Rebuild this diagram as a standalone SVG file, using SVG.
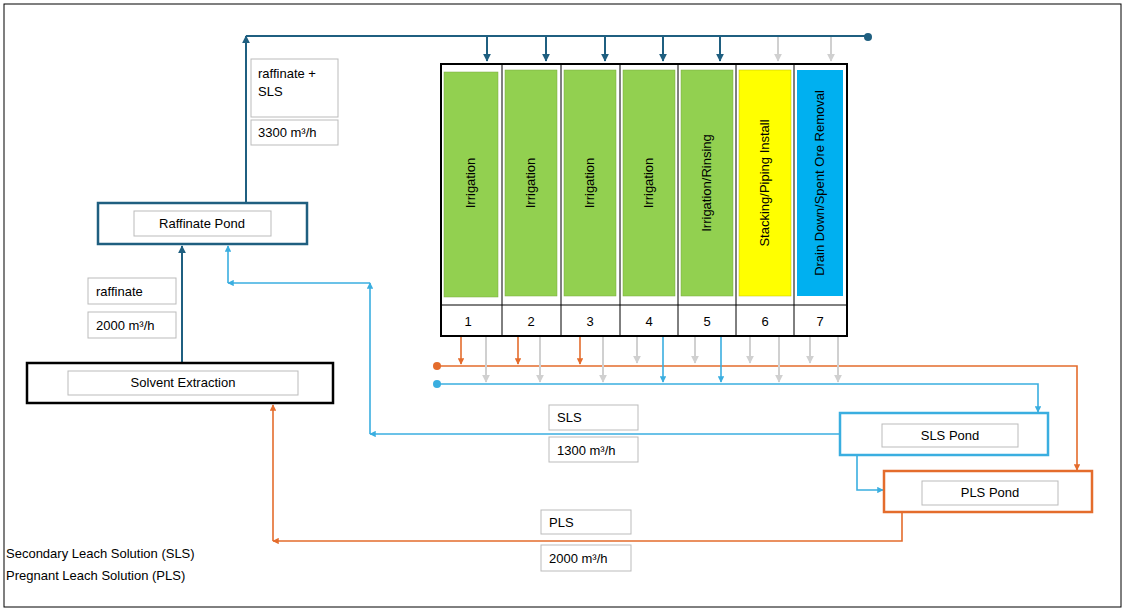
<svg xmlns="http://www.w3.org/2000/svg" width="1126" height="612" viewBox="0 0 1126 612">
<defs>
<marker id="ad" viewBox="0 0 10 10" refX="9" refY="5" markerWidth="4" markerHeight="4" orient="auto"><path d="M0,0L10,5L0,10z" fill="#1f5f80"/></marker>
<marker id="ag" viewBox="0 0 10 10" refX="9" refY="5" markerWidth="4" markerHeight="4" orient="auto"><path d="M0,0L10,5L0,10z" fill="#d0d0d0"/></marker>
<marker id="ao" viewBox="0 0 10 10" refX="9" refY="5" markerWidth="4" markerHeight="4" orient="auto"><path d="M0,0L10,5L0,10z" fill="#e46c2c"/></marker>
<marker id="ab" viewBox="0 0 10 10" refX="9" refY="5" markerWidth="4" markerHeight="4" orient="auto"><path d="M0,0L10,5L0,10z" fill="#3aaee0"/></marker>
</defs>
<style>
text{font-family:"Liberation Sans",Arial,sans-serif;font-size:13px;fill:#000}
.lb{fill:#fff;stroke:#bbb;stroke-width:1}
.d{stroke:#1f5f80;stroke-width:2;fill:none}
.g{stroke:#d0d0d0;stroke-width:2;fill:none}
.o{stroke:#e46c2c;stroke-width:1.6;fill:none}
.b{stroke:#3aaee0;stroke-width:1.6;fill:none}
.vt{font-size:13px}
</style>
<rect x="4" y="4" width="1117" height="603" fill="#fff" stroke="#000" stroke-width="1"/>
<g id="connectors">
<path class="d" d="M246,203V36" marker-end="url(#ad)"/>
<path class="d" d="M246,36H868"/>
<circle cx="868" cy="37" r="4" fill="#1f5f80"/>
<path class="d" d="M487,37V61" marker-end="url(#ad)"/>
<path class="d" d="M546,37V61" marker-end="url(#ad)"/>
<path class="d" d="M605,37V61" marker-end="url(#ad)"/>
<path class="d" d="M663,37V61" marker-end="url(#ad)"/>
<path class="d" d="M720,37V61" marker-end="url(#ad)"/>
<path class="g" d="M778,37V61" marker-end="url(#ag)"/>
<path class="g" d="M831,37V61" marker-end="url(#ag)"/>
<path class="d" d="M182,363V246" marker-end="url(#ad)"/>
<path class="o" d="M437,366H1077V470" marker-end="url(#ao)"/>
<circle cx="437" cy="366" r="4" fill="#e46c2c"/>
<path class="b" d="M437,384H1038V412" marker-end="url(#ab)"/>
<circle cx="437" cy="384" r="4" fill="#3aaee0"/>
<path class="o" d="M461,337V364" marker-end="url(#ao)"/>
<path class="o" d="M518,337V364" marker-end="url(#ao)"/>
<path class="o" d="M580,337V364" marker-end="url(#ao)"/>
<path class="g" d="M637,337V363" marker-end="url(#ag)"/>
<path class="g" d="M695,337V363" marker-end="url(#ag)"/>
<path class="g" d="M750,337V363" marker-end="url(#ag)"/>
<path class="g" d="M810,337V363" marker-end="url(#ag)"/>
<path class="g" d="M486,337V382" marker-end="url(#ag)"/>
<path class="g" d="M540,337V382" marker-end="url(#ag)"/>
<path class="g" d="M603,337V382" marker-end="url(#ag)"/>
<path class="g" d="M779,337V382" marker-end="url(#ag)"/>
<path class="g" d="M838,337V382" marker-end="url(#ag)"/>
<path class="b" d="M663,337V382" marker-end="url(#ab)"/>
<path class="b" d="M721,337V382" marker-end="url(#ab)"/>
<path class="b" d="M840,434H370" marker-end="url(#ab)"/>
<path class="b" d="M370,434V283" marker-end="url(#ab)"/>
<path class="b" d="M370,283H228" marker-end="url(#ab)"/>
<path class="b" d="M228,283V246" marker-end="url(#ab)"/>
<path class="b" d="M857,455V490H883" marker-end="url(#ab)"/>
<path class="o" d="M902,513V541H273" marker-end="url(#ao)"/>
<path class="o" d="M273,541V405" marker-end="url(#ao)"/>
</g>
<g id="cells">
<rect x="441" y="64" width="406" height="272" fill="#fff" stroke="#000" stroke-width="2"/>
<path d="M502,64V336M561,64V336M620,64V336M678,64V336M736,64V336M794,64V336M441,305H847" stroke="#000" stroke-width="1"/>
<g fill="#92d050" stroke="#7aa83c" stroke-width="0.5">
<rect x="444" y="72" width="54" height="225"/>
<rect x="505" y="70" width="52" height="226"/>
<rect x="564" y="70" width="52" height="226"/>
<rect x="623" y="70" width="52" height="226"/>
<rect x="681" y="70" width="52" height="226"/>
</g>
<rect x="739" y="70" width="52" height="226" fill="#ffff00" stroke="#c0c000" stroke-width="0.5"/>
<rect x="797" y="70" width="46" height="226" fill="#00b0f0"/>
<g class="vt">
<text transform="translate(475,183) rotate(-90)" text-anchor="middle">Irrigation</text>
<text transform="translate(535,183) rotate(-90)" text-anchor="middle">Irrigation</text>
<text transform="translate(594,183) rotate(-90)" text-anchor="middle">Irrigation</text>
<text transform="translate(653,183) rotate(-90)" text-anchor="middle">Irrigation</text>
<text transform="translate(711,183) rotate(-90)" text-anchor="middle">Irrigation/Rinsing</text>
<text transform="translate(769,183) rotate(-90)" text-anchor="middle">Stacking/Piping Install</text>
<text transform="translate(824,183) rotate(-90)" text-anchor="middle">Drain Down/Spent Ore Removal</text>
</g>
<g text-anchor="middle">
<text x="468" y="326">1</text><text x="531" y="326">2</text><text x="590" y="326">3</text><text x="649" y="326">4</text><text x="707" y="326">5</text><text x="765" y="326">6</text><text x="820" y="326">7</text>
</g>
</g>
<g id="raffinate-pond">
<rect x="98" y="203" width="209" height="41" fill="#fff" stroke="#1f5f80" stroke-width="2.5"/>
<rect x="134" y="211" width="137" height="25" class="lb"/>
<text x="202" y="228" text-anchor="middle">Raffinate Pond</text>
</g>
<g id="solvent-extraction">
<rect x="27" y="363" width="306" height="40" fill="#fff" stroke="#000" stroke-width="2.5"/>
<rect x="68" y="371" width="230" height="24" class="lb"/>
<text x="183" y="387" text-anchor="middle">Solvent Extraction</text>
</g>
<g id="sls-pond">
<rect x="840" y="413" width="208" height="42" fill="#fff" stroke="#3aaee0" stroke-width="2.5"/>
<rect x="882" y="424" width="136" height="23" class="lb"/>
<text x="950" y="440" text-anchor="middle">SLS Pond</text>
</g>
<g id="pls-pond">
<rect x="884" y="471" width="208" height="41" fill="#fff" stroke="#e46c2c" stroke-width="2.5"/>
<rect x="922" y="481" width="136" height="24" class="lb"/>
<text x="990" y="497" text-anchor="middle">PLS Pond</text>
</g>
<g id="labels">
<rect x="251" y="59" width="87" height="58" class="lb"/>
<text x="258" y="78">raffinate +</text><text x="258" y="96">SLS</text>
<rect x="251" y="120" width="87" height="25" class="lb"/>
<text x="258" y="137">3300 m³/h</text>
<rect x="88" y="278" width="88" height="26" class="lb"/>
<text x="96" y="296">raffinate</text>
<rect x="88" y="312" width="88" height="26" class="lb"/>
<text x="96" y="330">2000 m³/h</text>
<rect x="549" y="405" width="89" height="25" class="lb"/>
<text x="557" y="422">SLS</text>
<rect x="549" y="437" width="89" height="25" class="lb"/>
<text x="557" y="455">1300 m³/h</text>
<rect x="541" y="510" width="90" height="24" class="lb"/>
<text x="549" y="527">PLS</text>
<rect x="541" y="545" width="90" height="26" class="lb"/>
<text x="549" y="563">2000 m³/h</text>
<text x="6" y="558">Secondary Leach Solution (SLS)</text>
<text x="6" y="580">Pregnant Leach Solution (PLS)</text>
</g>
</svg>
